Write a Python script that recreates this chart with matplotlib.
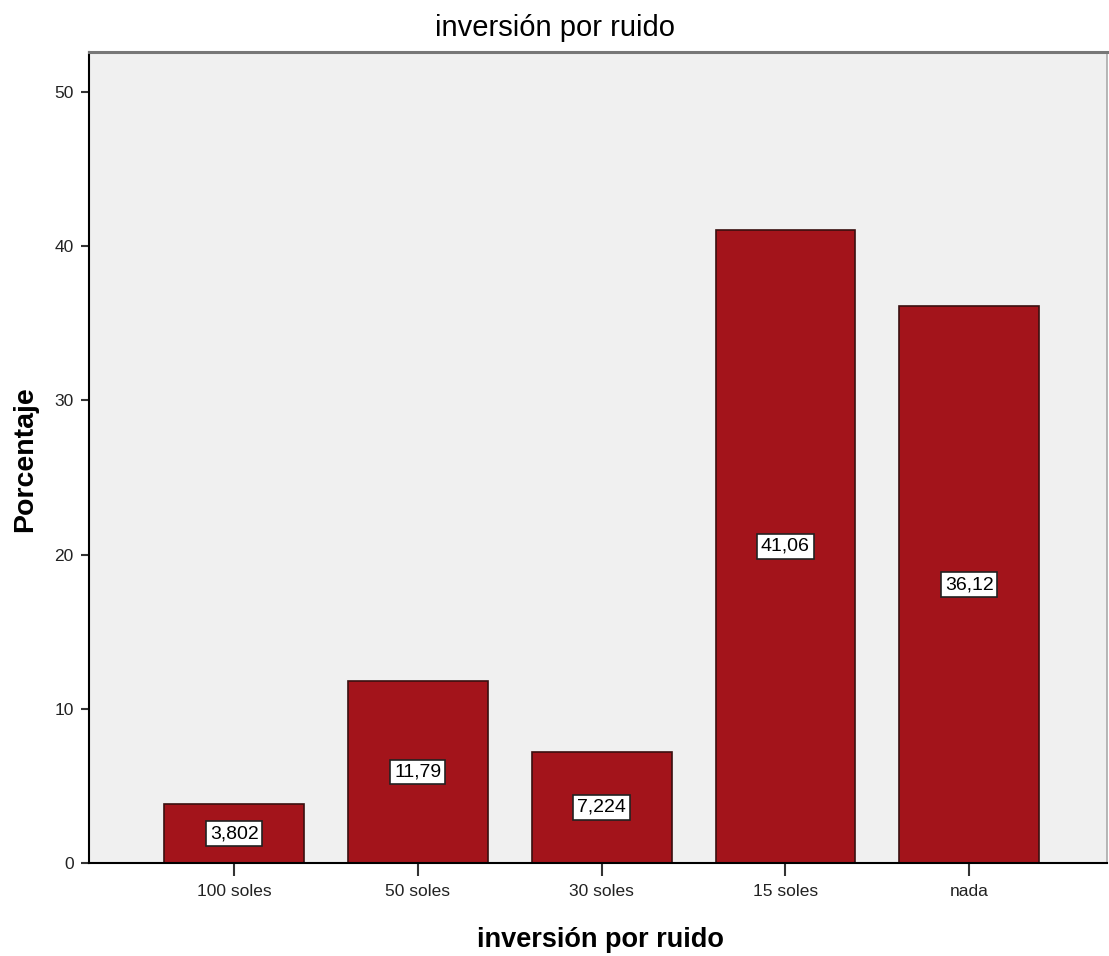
import matplotlib
matplotlib.use("Agg")
import matplotlib.pyplot as plt

categories = ["100 soles", "50 soles", "30 soles", "15 soles", "nada"]
values = [3.802, 11.79, 7.224, 41.06, 36.12]
value_labels = ["3,802", "11,79", "7,224", "41,06", "36,12"]
yticks = [0, 10, 20, 30, 40, 50]

fig = plt.figure(figsize=(11.09, 9.56), dpi=100)
ax = fig.add_axes([89/1109, 93/956, (1107-89)/1109, (863-52)/956])
ax.set_facecolor("#F0F0F0")

x = list(range(len(categories)))
ax.bar(x, values, width=0.76, color="#A3141B", edgecolor="#3a1010", linewidth=1.2, zorder=2)

for xi, v, lab in zip(x, values, value_labels):
    ax.text(xi, v/2, lab, ha="center", va="center", fontsize=14, family="Liberation Sans",
            color="black", zorder=3,
            bbox=dict(boxstyle="square,pad=0.2", facecolor="white", edgecolor="#222222", linewidth=1.2))

ax.set_xlim(-0.79, 4.75)
ax.set_ylim(0, 52.6)
ax.set_xticks(x)
ax.set_xticklabels(categories, fontsize=12.5, family="Liberation Sans", color="#222222")
ax.set_yticks(yticks)
ax.set_yticklabels([str(t) for t in yticks], fontsize=12.5, family="Liberation Sans", color="#222222")
ax.tick_params(axis="x", length=9, width=1.5, color="#333333", pad=6)
ax.tick_params(axis="y", length=6, width=1.5, color="#333333", pad=5)

for s in ["left", "bottom"]:
    ax.spines[s].set_color("black")
    ax.spines[s].set_linewidth(1.5)
ax.spines["top"].set_color("#777777")
ax.spines["top"].set_linewidth(2.2)
ax.spines["right"].set_color("#AAAAAA")
ax.spines["right"].set_linewidth(1.2)

fig.text(555/1109, 1 - 28/956, "inversión por ruido", ha="center", va="center",
         fontsize=21, family="Liberation Sans", color="black")
fig.text(600/1109, 1 - 940/956, "inversión por ruido", ha="center", va="center",
         fontsize=19.5, fontweight="bold", family="Liberation Sans", color="black")
fig.text(25/1109, 1 - 459/956, "Porcentaje", ha="center", va="center", rotation=90,
         fontsize=20.5, fontweight="bold", family="Liberation Sans", color="black")

fig.savefig("out.png", dpi=100, facecolor="white")
